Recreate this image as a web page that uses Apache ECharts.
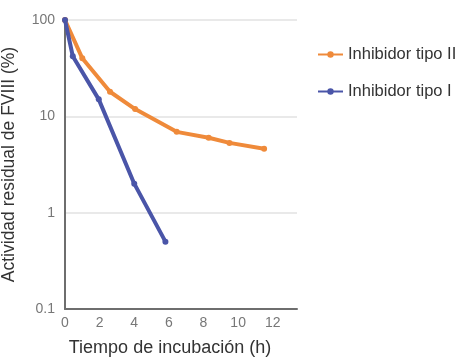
<!DOCTYPE html>
<html>
<head>
<meta charset="utf-8">
<script src="https://cdn.jsdelivr.net/npm/echarts@6/dist/echarts.min.js"></script>
<style>
  html, body { margin: 0; padding: 0; background: #fff; }
  #chart { width: 459px; height: 360px; }
</style>
</head>
<body>
<div id="chart"></div>
<script>
const tipo2Hours = [0, 1, 2.6, 4.05, 6.45, 8.3, 9.5, 11.5]
const tipo2Values = [100, 40, 18, 11.9, 6.9, 6.0, 5.3, 4.6]
const tipo1Hours = [0, 0.45, 1.95, 4.0, 5.8]
const tipo1Values = [100, 42, 15, 2.0, 0.5]
const yTicks = [0.1, 1, 10, 100]

const pairs = (xs, ys) => xs.map((x, i) => [x, ys[i]])

const chart = echarts.init(document.getElementById('chart'))
const font = 'Liberation Sans, Arial, sans-serif'
chart.setOption({
  animation: false,
  textStyle: { fontFamily: font },
  grid: { left: 65, right: 162, top: 20, bottom: 51, outerBoundsMode: 'none' },
  legend: {
    orient: 'vertical',
    left: 312,
    top: 41,
    itemGap: 20,
    itemWidth: 25,
    itemHeight: 8,
    textStyle: { fontSize: 16.5, color: '#333', fontFamily: font },
    data: ['Inhibidor tipo II', 'Inhibidor tipo I'],
  },
  xAxis: {
    type: 'value',
    min: 0,
    max: 13.4,
    interval: 2,
    name: 'Tiempo de incubación (h)',
    nameLocation: 'middle',
    nameGap: 30,
    nameTextStyle: { fontSize: 18, color: '#333', fontFamily: font, padding: [0, 22, 0, 0] },
    axisLine: { lineStyle: { color: '#6e6e6e', width: 2 } },
    axisTick: { show: false },
    axisLabel: { fontSize: 14, color: '#777', margin: 7,
      formatter: v => (v <= 12 ? String(v) : '') },
    splitLine: { show: false },
  },
  yAxis: {
    type: 'log',
    logBase: 10,
    min: 0.1,
    max: 100,
    name: 'Actividad residual de FVIII (%)',
    nameLocation: 'middle',
    nameGap: 47,
    nameTextStyle: { fontSize: 17.5, color: '#333', fontFamily: font },
    axisLine: { show: true, lineStyle: { color: '#6e6e6e', width: 2 } },
    axisTick: { show: false },
    axisLabel: { fontSize: 14, color: '#777', margin: 10,
      formatter: v => (yTicks.includes(+v.toFixed(1)) ? String(+v.toFixed(1)) : '') },
    splitLine: { show: true, lineStyle: { color: '#e2e2e2', width: 1.5 } },
  },
  series: [
    {
      name: 'Inhibidor tipo II',
      type: 'line',
      data: pairs(tipo2Hours, tipo2Values),
      color: '#ef8a3a',
    },
    {
      name: 'Inhibidor tipo I',
      type: 'line',
      data: pairs(tipo1Hours, tipo1Values),
      color: '#4a55a8',
    },
  ].map(s => ({
    ...s,
    symbol: 'circle',
    symbolSize: 6,
    lineStyle: { width: 4 },
    z: s.name === 'Inhibidor tipo I' ? 3 : 2,
  })),
})
</script>
</body>
</html>
